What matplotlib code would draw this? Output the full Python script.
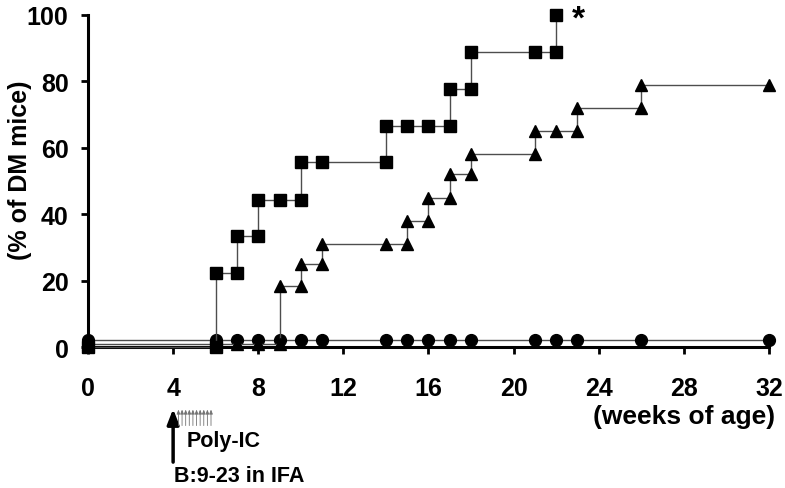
import numpy as np
import matplotlib
matplotlib.use("Agg")
import matplotlib.pyplot as plt

# cumulative incidence (% of DM mice) by weeks of age
sq_weeks = [0, 6, 6, 7, 7, 8, 8, 9, 10, 10, 11, 14, 14, 15, 16, 17, 17, 18, 18, 21, 22, 22]
sq_pct = [0, 0, 22.2, 22.2, 33.3, 33.3, 44.4, 44.4, 44.4, 55.6, 55.6, 55.6, 66.7, 66.7,
          66.7, 66.7, 77.8, 77.8, 88.9, 88.9, 88.9, 100]

tri_weeks = [0, 6, 7, 8, 9, 9, 10, 10, 11, 11, 14, 15, 15, 16, 16, 17, 17, 18, 18,
             21, 21, 22, 23, 23, 26, 26, 32]
tri_pct = [1, 1, 1, 1, 1, 18.5, 18.5, 25, 25, 31, 31, 31, 38, 38, 45, 45, 52, 52, 58,
           58, 65, 65, 65, 72, 72, 79, 79]

circ_weeks = [0, 6, 7, 8, 9, 10, 11, 14, 15, 16, 17, 18, 21, 22, 23, 26, 32]
circ_pct = [2.2] * len(circ_weeks)

xticks = [0, 4, 8, 12, 16, 20, 24, 28, 32]
yticks = [0, 20, 40, 60, 80, 100]
polyic_weeks = [4.25, 4.42, 4.59, 4.76, 4.93, 5.10, 5.27, 5.44, 5.61, 5.78]

plt.rcParams['font.family'] = ['Liberation Sans', 'DejaVu Sans']
plt.rcParams['font.weight'] = 'bold'

fig = plt.figure(figsize=(7.85, 4.89), dpi=100)
ax = fig.add_axes([0.1121, 0.2883, 0.8675, 0.679])

lc = '0.3'
ax.plot(circ_weeks, circ_pct, color=lc, lw=1, marker='o', ms=8.5,
        mfc='black', mec='black', clip_on=False, zorder=3)
ax.plot(tri_weeks, tri_pct, color=lc, lw=1, marker='^', ms=9,
        mfc='black', mec='black', clip_on=False, zorder=3)
ax.plot(sq_weeks, sq_pct, color=lc, lw=1, marker='s', ms=8,
        mfc='black', mec='black', clip_on=False, zorder=3)

ax.set_xlim(0, 32)
ax.set_ylim(0, 100)
ax.set_xticks(xticks)
ax.set_yticks(yticks)
ax.tick_params(axis='x', direction='out', length=5, width=2, pad=16, labelsize=18)
ax.tick_params(axis='y', direction='out', length=5, width=2, pad=9, labelsize=18)
for lab in ax.get_xticklabels() + ax.get_yticklabels():
    lab.set_fontweight('bold')
for s in ['top', 'right']:
    ax.spines[s].set_visible(False)
for s in ['left', 'bottom']:
    ax.spines[s].set_linewidth(2.2)

ax.text(22.75, 103.3, '*', fontsize=24, fontweight='bold', ha='left', va='top')

fig.text(20 / 785, 1 - 170 / 489, '(% of DM mice)', rotation=90, fontsize=18,
         fontweight='bold', ha='center', va='center')
fig.text(775 / 785, 1 - 417 / 489, '(weeks of age)', fontsize=19,
         fontweight='bold', ha='right', va='center')

# treatment arrows under the x axis
trans = ax.get_xaxis_transform()
ax.annotate('', xy=(4, -0.178), xytext=(4, -0.355), xycoords=trans, textcoords=trans,
            arrowprops=dict(arrowstyle='-|>,head_length=0.9,head_width=0.35',
                            color='black', lw=2.5), annotation_clip=False)
for w in polyic_weeks:
    ax.annotate('', xy=(w, -0.18), xytext=(w, -0.245), xycoords=trans, textcoords=trans,
                arrowprops=dict(arrowstyle='-|>,head_length=0.25,head_width=0.1',
                                color='0.45', lw=0.6), annotation_clip=False)
fig.text(187 / 785, 1 - 442 / 489, 'Poly-IC', fontsize=15.5, fontweight='bold',
         ha='left', va='center')
fig.text(174 / 785, 1 - 477 / 489, 'B:9-23 in IFA', fontsize=15.5, fontweight='bold',
         ha='left', va='center')

fig.savefig('out.png', dpi=100)
